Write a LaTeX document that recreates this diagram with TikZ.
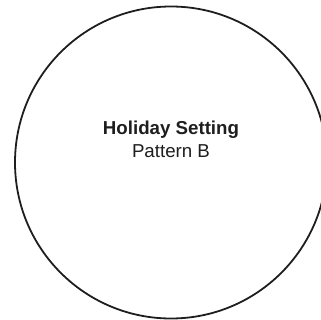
\documentclass[tikz,border=0pt]{standalone}
\usepackage{fontspec}
\setmainfont{Liberation Sans}
\definecolor{ink}{HTML}{1E1E1E}
\begin{document}
\begin{tikzpicture}[x=1pt,y=-1pt,
  ring/.style={draw=ink,line width=1.8pt},
  label/.style={text=ink,align=center,font=\fontsize{18.7}{23}\selectfont}]
\useasboundingbox (0,0) rectangle (320,320);
\node[ring,circle,minimum size=312pt,inner sep=0pt] (c) at (171,162.5) {};
\node[label] (t) at (171,139) {\textbf{Holiday Setting}\\Pattern B};
\end{tikzpicture}
\end{document}
